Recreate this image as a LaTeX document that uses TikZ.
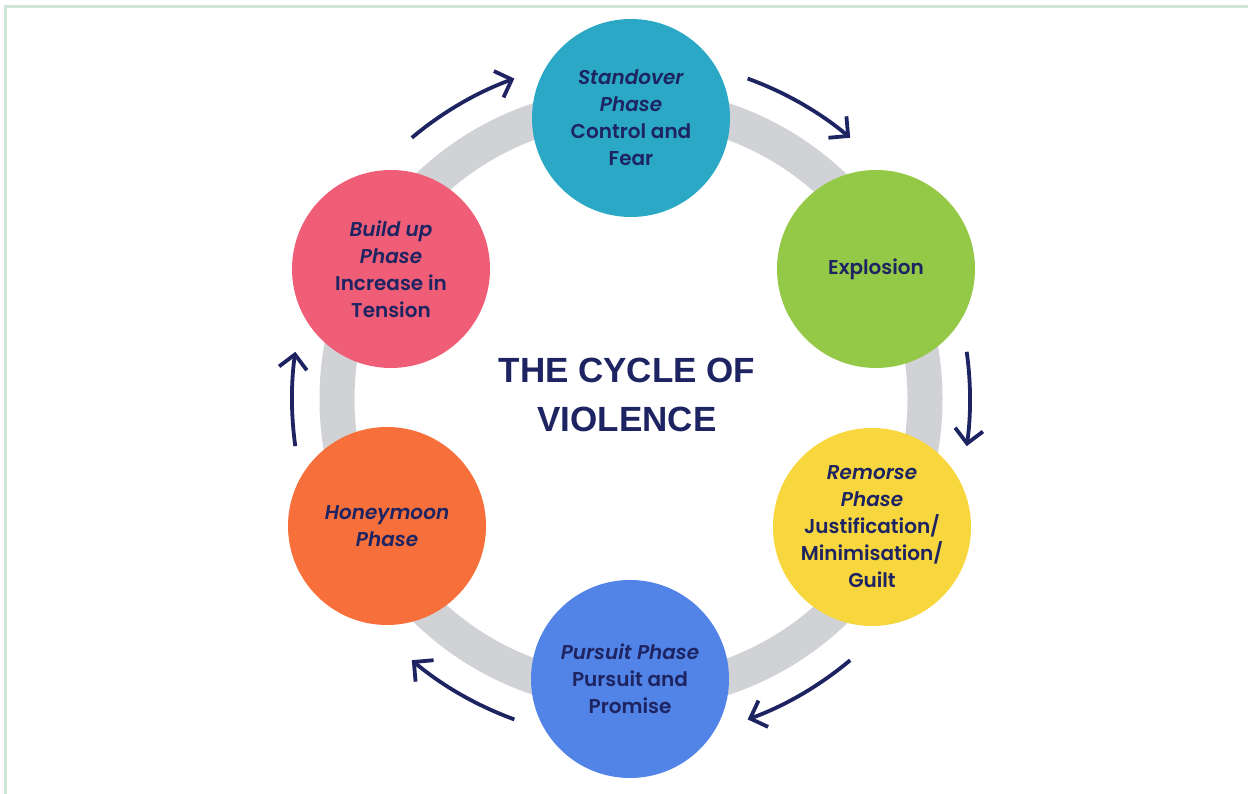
\documentclass[tikz,border=0pt]{standalone}
\usepackage{fontspec}
\setmainfont{Liberation Sans}
\newfontfamily\circfont{Poppins}[UprightFont={* SemiBold},ItalicFont={* SemiBold Italic}]
\usetikzlibrary{arrows.meta}
\definecolor{navy}{HTML}{1D2461}
\definecolor{ringgray}{HTML}{D1D2D5}
\definecolor{framegreen}{HTML}{CDE6D5}
\definecolor{cteal}{HTML}{2AA8C5}
\definecolor{cgreen}{HTML}{94C847}
\definecolor{cyellow}{HTML}{F7D63E}
\definecolor{cblue}{HTML}{5283E6}
\definecolor{corange}{HTML}{F7703B}
\definecolor{cpink}{HTML}{EF5E76}
\begin{document}
\begin{tikzpicture}[x=1pt,y=1pt,
  phase/.style={circle, minimum size=198pt, inner sep=0pt, align=center, text=navy,
    font=\circfont\fontsize{20}{27}\selectfont},
  ringline/.style={draw=ringgray, line width=35pt},
  cyc/.style={draw=navy, line width=3.8pt, -{Straight Barb[length=14pt,width=28pt]}},
  frameline/.style={draw=framegreen, line width=3pt},
  titletext/.style={align=center, text=navy, font=\bfseries\fontsize{35}{49}\selectfont}]
\useasboundingbox (0,0) rectangle (1248,794);
\coordinate (c) at (631,395);
\draw[frameline] (5.5,0) -- (5.5,787.5) -- (1248,787.5);
\draw[ringline] (c) circle[radius=294pt];
\draw[cyc] ([shift={(130:341pt)}]c) arc[start angle=130,end angle=110,radius=341pt];
\draw[cyc] ([shift={(70:341pt)}]c) arc[start angle=70,end angle=50,radius=341pt];
\draw[cyc] ([shift={(8:339pt)}]c) arc[start angle=8,end angle=-8,radius=339pt];
\draw[cyc] ([shift={(-50:341pt)}]c) arc[start angle=-50,end angle=-70,radius=341pt];
\draw[cyc] ([shift={(-110:341pt)}]c) arc[start angle=-110,end angle=-130,radius=341pt];
\draw[cyc] ([shift={(188:339pt)}]c) arc[start angle=188,end angle=172,radius=339pt];
\node[phase, fill=cteal] (stand) at (631,676) {\textit{Standover}\\\textit{Phase}\\Control and\\Fear};
\node[phase, fill=cgreen] (expl) at (876,525) {Explosion};
\node[phase, fill=cyellow] (remo) at (872,267) {\textit{Remorse}\\\textit{Phase}\\Justification/\\Minimisation/\\Guilt};
\node[phase, fill=cblue] (purs) at (630,115) {\textit{Pursuit Phase}\\Pursuit and\\Promise};
\node[phase, fill=corange] (honey) at (387,268) {\textit{Honeymoon}\\\textit{Phase}};
\node[phase, fill=cpink] (build) at (391,525) {\textit{Build up}\\\textit{Phase}\\Increase in\\Tension};
\node[titletext] (title) at (627,399.5) {THE CYCLE OF\\VIOLENCE};
\end{tikzpicture}
\end{document}
